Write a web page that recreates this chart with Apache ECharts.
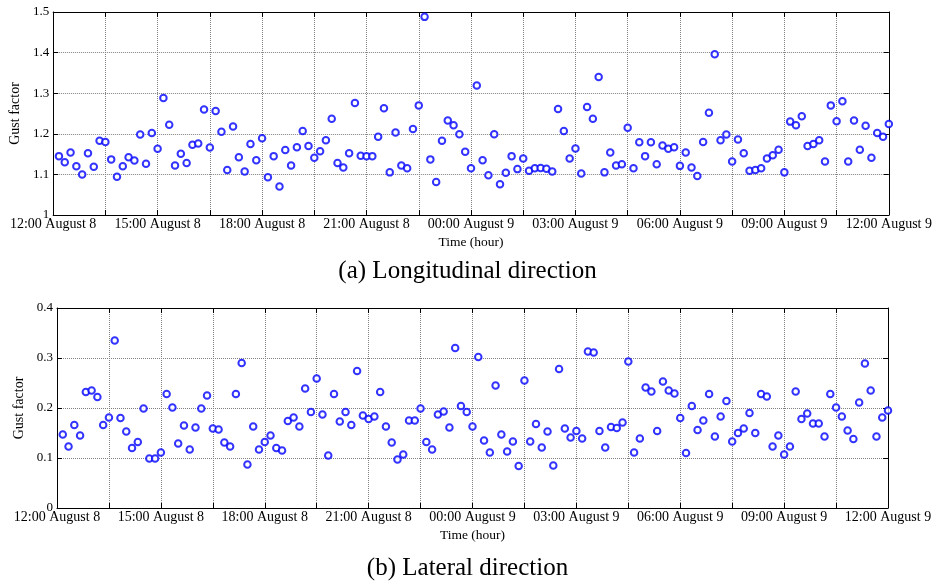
<!DOCTYPE html>
<html>
<head>
<meta charset="utf-8">
<script src="https://cdn.jsdelivr.net/npm/echarts@6/dist/echarts.min.js"></script>
<style>
  html, body { margin: 0; padding: 0; background: #fff; }
  #chart { width: 935px; height: 583px; }
</style>
</head>
<body>
<div id="chart"></div>
<script>
// Time axis labels, one every three hours
const timeLabels = ['12:00 August 8', '15:00 August 8', '18:00 August 8', '21:00 August 8',
  '00:00 August 9', '03:00 August 9', '06:00 August 9', '09:00 August 9', '12:00 August 9'];

// 10-minute gust factors, 12:10 August 8 to 12:00 August 9
const longitudinal = [
  1.145, 1.130, 1.154, 1.120, 1.100, 1.152, 1.119, 1.183, 1.180, 1.137, 1.094, 1.120, 1.142,
  1.134, 1.198, 1.126, 1.202, 1.163, 1.288, 1.222, 1.122, 1.151, 1.128, 1.173, 1.176, 1.260,
  1.166, 1.256, 1.205, 1.111, 1.218, 1.142, 1.107, 1.175, 1.135, 1.189, 1.093, 1.145, 1.070,
  1.160, 1.122, 1.167, 1.207, 1.170, 1.141, 1.157, 1.184, 1.237, 1.128, 1.117, 1.152, 1.276,
  1.146, 1.145, 1.145, 1.193, 1.263, 1.105, 1.203, 1.122, 1.115, 1.212, 1.270, 1.488, 1.137,
  1.081, 1.183, 1.233, 1.221, 1.199, 1.156, 1.115, 1.319, 1.135, 1.098, 1.199, 1.076,
  1.104, 1.145, 1.113, 1.139, 1.109, 1.115, 1.116, 1.114, 1.107, 1.261, 1.207, 1.139, 1.164,
  1.102, 1.266, 1.237, 1.340, 1.105, 1.154, 1.122, 1.125, 1.215, 1.115, 1.179, 1.145, 1.179,
  1.125, 1.171, 1.163, 1.167, 1.121, 1.154, 1.117, 1.096, 1.180, 1.252, 1.396,
  1.184, 1.198, 1.132, 1.186, 1.152, 1.109, 1.111, 1.115, 1.139, 1.147, 1.161, 1.105, 1.230,
  1.221, 1.243, 1.170, 1.175, 1.184, 1.132, 1.270, 1.231, 1.280, 1.132, 1.233, 1.161, 1.220,
  1.141, 1.202, 1.193, 1.224
];

const lateral = [
  0.147, 0.123, 0.166, 0.145, 0.232, 0.235, 0.222, 0.166, 0.181, 0.335, 0.180, 0.153, 0.120,
  0.132, 0.199, 0.099, 0.099, 0.111, 0.228, 0.201, 0.129, 0.165, 0.117, 0.161, 0.199, 0.225,
  0.159, 0.157, 0.131, 0.123, 0.228, 0.290, 0.087, 0.163, 0.117, 0.132, 0.145, 0.120, 0.115,
  0.174, 0.181, 0.163, 0.239, 0.192, 0.259, 0.187, 0.105, 0.228, 0.173, 0.192, 0.166, 0.274,
  0.185, 0.178, 0.183, 0.232, 0.163, 0.131, 0.097, 0.107, 0.175, 0.175, 0.199, 0.132, 0.117,
  0.187, 0.193, 0.161, 0.320, 0.204, 0.192, 0.163, 0.302, 0.135, 0.111, 0.245, 0.147,
  0.113, 0.133, 0.084, 0.255, 0.133, 0.168, 0.121, 0.153, 0.085, 0.278, 0.159, 0.141, 0.154,
  0.139, 0.313, 0.311, 0.154, 0.121, 0.162, 0.160, 0.171, 0.293, 0.111, 0.139, 0.241, 0.233,
  0.154, 0.253, 0.235, 0.229, 0.180, 0.110, 0.204, 0.156, 0.175, 0.228, 0.143, 0.183,
  0.214, 0.133, 0.150, 0.159, 0.190, 0.150, 0.228, 0.223, 0.123, 0.145, 0.107, 0.123, 0.233,
  0.178, 0.189, 0.169, 0.169, 0.143, 0.228, 0.201, 0.183, 0.155, 0.138, 0.211, 0.289, 0.235,
  0.143, 0.181, 0.195
];

const stepMinutes = 10;      // sampling interval
const spanMinutes = 1440;    // one day
const FONT = '"Liberation Serif", "Times New Roman", serif';

function pairs(values) {
  return values.map((v, i) => [(i + 1) * stepMinutes, v]);
}

const gridLine = { show: true, lineStyle: { color: '#808080', type: [1, 1], width: 1 } };
const tickIn = { show: true, inside: true, length: 5, lineStyle: { color: '#000' } };
const frameLine = { show: true, onZero: false, lineStyle: { color: '#000', width: 1 } };

function xAxes(gridIndex) {
  return [
    {
      gridIndex, type: 'value', min: 0, max: spanMinutes, interval: 90,
      position: 'bottom',
      axisLine: frameLine, axisTick: tickIn, splitLine: gridLine,
      axisLabel: {
        color: '#000', fontFamily: FONT, fontSize: 14, margin: 2,
        formatter: v => (v % 180 === 0 ? timeLabels[v / 180] : '')
      },
      name: 'Time (hour)', nameLocation: 'middle', nameGap: 20,
      nameTextStyle: { color: '#000', fontFamily: FONT, fontSize: 13.5 }
    },
    {
      gridIndex, type: 'value', min: 0, max: spanMinutes, interval: 90,
      position: 'top',
      axisLine: frameLine, axisTick: tickIn, splitLine: { show: false },
      axisLabel: { show: false }
    }
  ];
}

function yAxes(gridIndex, min, max, titleGap) {
  return [
    {
      gridIndex, type: 'value', min, max, interval: 0.1, position: 'left',
      axisLine: frameLine, axisTick: tickIn, splitLine: gridLine,
      axisLabel: { color: '#000', fontFamily: FONT, fontSize: 13, margin: 4 },
      name: 'Gust factor', nameLocation: 'middle', nameRotate: 90, nameGap: titleGap,
      nameTextStyle: { color: '#000', fontFamily: FONT, fontSize: 14 }
    },
    {
      gridIndex, type: 'value', min, max, interval: 0.1, position: 'right',
      axisLine: frameLine, axisTick: tickIn, splitLine: { show: false },
      axisLabel: { show: false }
    }
  ];
}

const markerStyle = {
  type: 'scatter', symbol: 'emptyCircle', symbolSize: 6.5,
  itemStyle: { color: '#0000ff', borderColor: '#0000ff', borderWidth: 1 },
  silent: true
};

const captionStyle = { color: '#000', fontFamily: FONT, fontSize: 25, fontWeight: 'normal' };

const chart = echarts.init(document.getElementById('chart'), null, { renderer: 'canvas' });
chart.setOption({
  animation: false,
  backgroundColor: '#fff',
  textStyle: { fontFamily: FONT },
  title: [
    { text: '(a) Longitudinal direction', left: 'center', top: 254, textStyle: captionStyle },
    { text: '(b) Lateral direction', left: 'center', top: 551, textStyle: captionStyle }
  ],
  grid: [
    { left: 51, top: 12, width: 842, height: 203, containLabel: false },
    { left: 57, top: 308, width: 831, height: 200, containLabel: false }
  ],
  xAxis: [...xAxes(0), ...xAxes(1)],
  yAxis: [...yAxes(0, 1, 1.5, 26), ...yAxes(1, 0, 0.4, 28)],
  series: [
    Object.assign({ name: 'Longitudinal', xAxisIndex: 0, yAxisIndex: 0, data: pairs(longitudinal) }, markerStyle),
    Object.assign({ name: 'Lateral', xAxisIndex: 2, yAxisIndex: 2, data: pairs(lateral) }, markerStyle)
  ]
});
</script>
</body>
</html>
